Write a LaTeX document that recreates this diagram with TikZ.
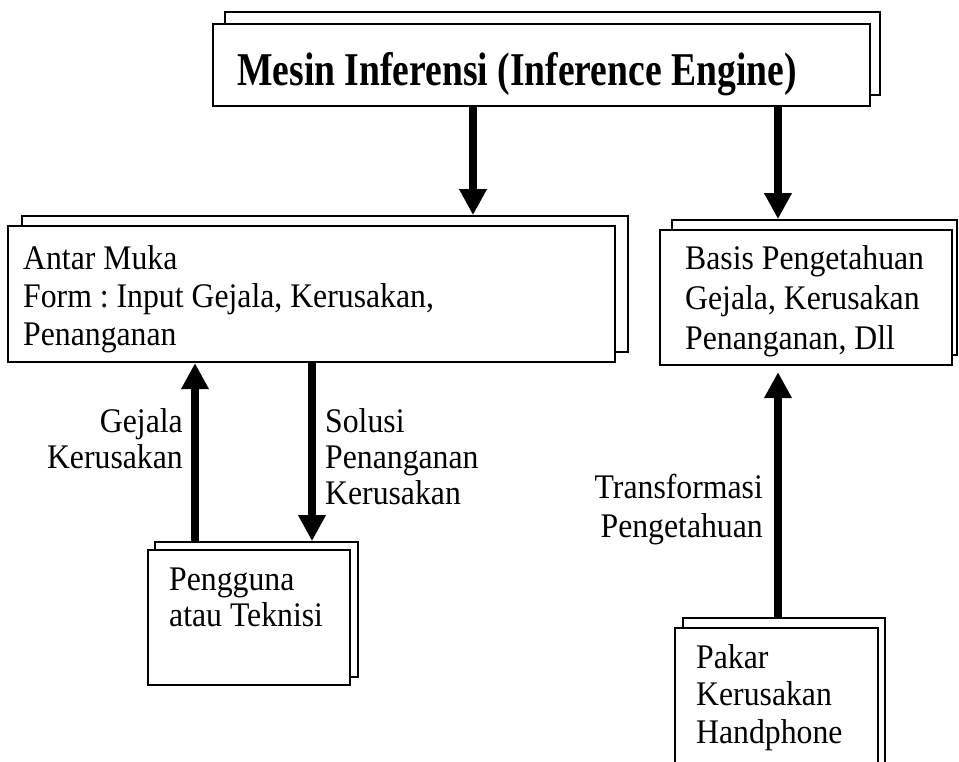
\documentclass[tikz,border=0pt]{standalone}
\usepackage{fontspec}
\setmainfont{Liberation Serif}[FakeStretch=0.92]
\newfontfamily\titlefont{Liberation Serif}[FakeStretch=0.8]
\usetikzlibrary{arrows.meta,fit}
\frenchspacing
\begin{document}
\begin{tikzpicture}[x=1pt,y=-1pt,
  frontbox/.style={draw, line width=2.2pt, fill=white, inner sep=0pt},
  backbox/.style={draw, line width=1.8pt, fill=white, inner sep=0pt},
  txt/.style={font=\fontsize{34.5}{38}\selectfont, inner sep=0pt, align=left},
  rtxt/.style={font=\fontsize{34.5}{36}\selectfont, inner sep=0pt, align=right},
  flow/.style={line width=8pt, -{Triangle[width=26pt,length=26pt]}},
]
\useasboundingbox (0,0) rectangle (959,761);
\clip (0,0) rectangle (959,761);

% inference engine
\node[backbox, fit={(225,12) (880,95)}] (mesinB) {};
\node[frontbox, fit={(213,24) (870,106)}] (mesin) {};
\node[anchor=north west, inner sep=0pt, font=\titlefont\bfseries\fontsize{47}{50}\selectfont]
  (mesinT) at (237,52) {Mesin Inferensi (Inference Engine)};

% user interface
\node[backbox, fit={(22,216) (628,352)}] (antarB) {};
\node[frontbox, fit={(8,226) (615,362)}] (antar) {};
\node[txt, anchor=north west] (antarT) at (23,245)
  {Antar Muka\\Form : Input Gejala, Kerusakan,\\Penanganan};

% knowledge base
\node[backbox, fit={(672,220) (957,355)}] (basisB) {};
\node[frontbox, fit={(660,230) (952,365)}] (basis) {};
\node[txt, anchor=north west, font=\fontsize{34.5}{40}\selectfont] (basisT) at (685,245)
  {Basis Pengetahuan\\Gejala, Kerusakan\\Penanganan, Dll};

% user or technician
\node[backbox, fit={(155,542) (358,677)}] (penggunaB) {};
\node[frontbox, fit={(148,550) (350,685)}] (pengguna) {};
\node[txt, anchor=north west, font=\fontsize{34.5}{36}\selectfont] (penggunaT) at (169,568)
  {Pengguna\\atau Teknisi};

% expert
\node[backbox, fit={(683,618) (885,780)}] (pakarB) {};
\node[frontbox, fit={(675,628) (878,790)}] (pakar) {};
\node[txt, anchor=north west, font=\fontsize{34.5}{37.5}\selectfont] (pakarT) at (696,644)
  {Pakar\\Kerusakan\\Handphone};

% arrow columns
\coordinate (xa) at (473,0);
\coordinate (xb) at (778,0);
\coordinate (xc) at (195,0);
\coordinate (xd) at (312,0);

\draw[flow] (mesin.south -| xa) -- (antarB.north -| xa);
\draw[flow] (mesin.south -| xb) -- (basisB.north -| xb);
\draw[flow] (penggunaB.north -| xc) -- (antar.south -| xc);
\draw[flow] (antar.south -| xd) -- (penggunaB.north -| xd);
\draw[flow, shorten >=6pt] (pakarB.north -| xb) -- (basis.south -| xb);

% arrow labels
\node[rtxt, anchor=north east] (gejalaL) at (183,408) {Gejala\\Kerusakan};
\node[txt, anchor=north west, font=\fontsize{34.5}{36}\selectfont] (solusiL) at (325,408)
  {Solusi\\Penanganan\\Kerusakan};
\node[rtxt, anchor=north east, font=\fontsize{34.5}{39}\selectfont] (transL) at (763,474)
  {Transformasi\\Pengetahuan};
\end{tikzpicture}
\end{document}
